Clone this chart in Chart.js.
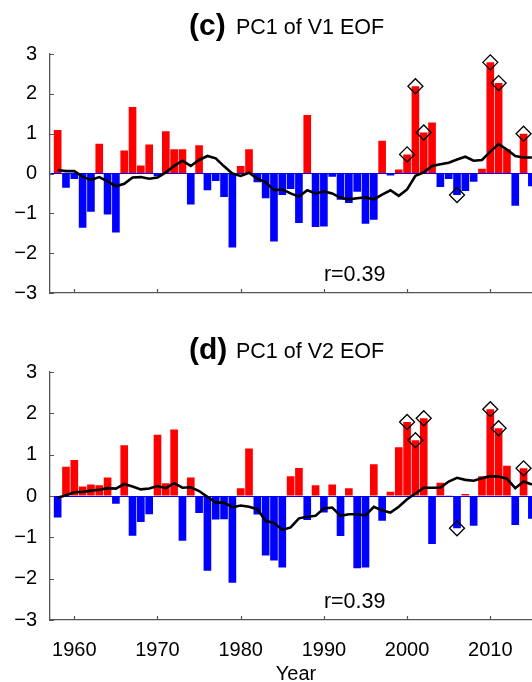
<!DOCTYPE html>
<html>
<head>
<meta charset="utf-8">
<script src="https://cdn.jsdelivr.net/npm/chart.js@4.4.1/dist/chart.umd.min.js"></script>
<style>
  html, body { margin: 0; padding: 0; background: #fff; overflow: hidden; width: 532px; height: 682px; }
  canvas { position: absolute; left: 0; }
  #pcV1 { top: 0; }
  #pcV2 { top: 318px; }
</style>
</head>
<body>
<canvas id="pcV1" width="556" height="318"></canvas>
<canvas id="pcV2" width="556" height="364"></canvas>
<script>
// years on the x axis
const years = [1958, 1959, 1960, 1961, 1962, 1963, 1964, 1965, 1966, 1967,
               1968, 1969, 1970, 1971, 1972, 1973, 1974, 1975, 1976, 1977,
               1978, 1979, 1980, 1981, 1982, 1983, 1984, 1985, 1986, 1987,
               1988, 1989, 1990, 1991, 1992, 1993, 1994, 1995, 1996, 1997,
               1998, 1999, 2000, 2001, 2002, 2003, 2004, 2005, 2006, 2007,
               2008, 2009, 2010, 2011, 2012, 2013, 2014, 2015];

// (c) PC1 of V1 EOF
const v1Pc = [1.09, -0.36, -0.14, -1.36, -0.96, 0.75, -1.03, -1.48, 0.58, 1.67,
              0.20, 0.73, -0.07, 1.06, 0.61, 0.61, -0.78, 0.71, -0.42, -0.19,
              -0.59, -1.86, 0.19, 0.61, -0.22, -0.62, -1.71, -0.54, -0.39, -1.24,
              1.47, -1.34, -1.33, -0.08, -0.66, -0.74, -0.46, -1.26, -1.16, 0.82,
              -0.05, 0.10, 0.48, 2.19, 1.03, 1.28, -0.34, -0.14, -0.54, -0.44,
              -0.21, 0.12, 2.79, 2.27, 0.61, -0.81, 1.00, -0.32];
const v1Mean = [0.09, 0.06, 0.06, -0.08, -0.16, -0.09, -0.20, -0.32, -0.26, -0.10,
                -0.09, -0.13, -0.10, 0.03, 0.19, 0.32, 0.19, 0.34, 0.44, 0.38,
                0.18, 0.00, -0.06, 0.02, -0.13, -0.22, -0.42, -0.40, -0.50, -0.58,
                -0.42, -0.50, -0.45, -0.50, -0.61, -0.65, -0.62, -0.60, -0.65, -0.53,
                -0.42, -0.56, -0.40, -0.06, 0.03, 0.19, 0.23, 0.27, 0.35, 0.42,
                0.32, 0.34, 0.55, 0.74, 0.60, 0.44, 0.40, 0.40];

// (d) PC1 of V2 EOF
const v2Pc = [-0.52, 0.71, 0.87, 0.23, 0.28, 0.26, 0.45, -0.19, 1.23, -0.96,
              -0.63, -0.44, 1.48, 0.31, 1.61, -1.08, 0.45, -0.41, -1.81, -0.57,
              -0.56, -2.10, 0.19, 1.15, -0.45, -1.44, -1.56, -1.73, 0.48, 0.68,
              -0.58, 0.26, -0.40, 0.28, -0.97, 0.19, -1.75, -1.73, 0.77, -0.60,
              0.10, 1.18, 1.79, 1.35, 1.88, -1.16, 0.32, 0.02, -0.78, 0.05,
              -0.72, 0.48, 2.10, 1.64, 0.73, -0.70, 0.67, -0.55];
const v2Mean = [-0.04, 0.02, 0.09, 0.10, 0.13, 0.15, 0.19, 0.18, 0.29, 0.23,
                0.16, 0.18, 0.24, 0.19, 0.31, 0.20, 0.21, 0.12, -0.02, -0.16,
                -0.16, -0.27, -0.23, -0.26, -0.32, -0.60, -0.65, -0.82, -0.76, -0.54,
                -0.50, -0.48, -0.30, -0.28, -0.48, -0.44, -0.44, -0.47, -0.26, -0.35,
                -0.40, -0.26, -0.08, 0.06, 0.20, 0.20, 0.20, 0.35, 0.44, 0.39,
                0.37, 0.43, 0.48, 0.47, 0.42, 0.19, 0.35, 0.28];

// years marked with a diamond
const v1Marked = [2000, 2001, 2002, 2006, 2010, 2011, 2014];
const v2Marked = [2000, 2001, 2002, 2006, 2010, 2011, 2014];

const xTicks = [1960, 1970, 1980, 1990, 2000, 2010];
const yTicks = [-3, -2, -1, 0, 1, 2, 3];

const FONT = '"Liberation Sans", Arial, Helvetica, sans-serif';
const axisColor = '#555';

// inward tick marks + panel texts
const panelText = {
    id: 'panelText',
    afterDraw(chart, args, opts) {
        const ctx = chart.ctx;
        const xs = chart.scales.x, ys = chart.scales.y, a = chart.chartArea;
        ctx.save();
        ctx.strokeStyle = axisColor;
        ctx.lineWidth = 1.2;
        ctx.beginPath();
        yTicks.forEach(v => {
            const py = Math.round(ys.getPixelForValue(v)) + 0.5;
            ctx.moveTo(a.left, py);
            ctx.lineTo(a.left + 4, py);
        });
        xTicks.forEach(v => {
            const px = Math.round(xs.getPixelForValue(v)) + 0.5;
            ctx.moveTo(px, a.bottom);
            ctx.lineTo(px, a.bottom - 4);
        });
        ctx.stroke();

        ctx.fillStyle = '#000';
        ctx.textBaseline = 'alphabetic';
        ctx.textAlign = 'left';
        ctx.font = 'bold 30px ' + FONT;
        ctx.fillText(opts.letter, 189, opts.titleY + 1);
        ctx.font = '21.5px ' + FONT;
        ctx.fillText(opts.title, 236, opts.titleY);
        ctx.fillText('r=0.39', xs.getPixelForValue(1990), ys.getPixelForValue(-2.7));
        if (opts.xTitle) {
            ctx.font = '20px ' + FONT;
            ctx.textAlign = 'center';
            ctx.fillText(opts.xTitle, 296, 362);
        }
        ctx.restore();
    }
};

function makePanel(id, pc, mean, marked, letter, title, titleY, showYear) {
    const barData = years.map((yr, i) => ({ x: yr, y: pc[i] }));
    const lineData = years.map((yr, i) => ({ x: yr, y: mean[i] }));
    const markData = marked.map(yr => ({ x: yr, y: pc[years.indexOf(yr)] }));

    return new Chart(document.getElementById(id), {
        type: 'bar',
        data: {
            datasets: [
                {
                    type: 'line',
                    data: markData,
                    showLine: false,
                    pointStyle: 'rectRot',
                    pointRadius: 7.5,
                    pointBackgroundColor: 'rgba(0,0,0,0)',
                    pointBorderColor: '#000',
                    pointBorderWidth: 1.3,
                    order: 0
                },
                {
                    type: 'line',
                    data: lineData,
                    borderColor: '#000',
                    borderWidth: 2.6,
                    pointRadius: 0,
                    tension: 0,
                    order: 1
                },
                {
                    type: 'bar',
                    data: barData,
                    backgroundColor: c => (c.raw && c.raw.y < 0) ? '#0000ff' : '#ff0000',
                    borderWidth: 0,
                    barPercentage: 0.92,
                    categoryPercentage: 1,
                    order: 2
                }
            ]
        },
        options: {
            responsive: false,
            devicePixelRatio: 1,
            animation: false,
            layout: { padding: { top: 54, right: 8, left: 0, bottom: 0 } },
            plugins: {
                legend: { display: false },
                tooltip: { enabled: false },
                panelText: { letter: letter, title: title, titleY: titleY, xTitle: showYear ? 'Year' : null }
            },
            scales: {
                x: {
                    type: 'linear',
                    min: 1957.08,
                    max: 2016.84,
                    offset: false,
                    afterBuildTicks: s => { s.ticks = xTicks.map(v => ({ value: v })); },
                    afterFit: s => { s.height = showYear ? 62 : 16; },
                    grid: { display: false, drawTicks: false },
                    border: { display: true, color: axisColor, width: 1.3 },
                    ticks: {
                        display: showYear,
                        padding: 18,
                        color: '#000',
                        font: { family: FONT, size: 20 },
                        callback: v => String(v)
                    }
                },
                y: {
                    min: -3,
                    max: 3,
                    afterBuildTicks: s => { s.ticks = yTicks.map(v => ({ value: v })); },
                    afterFit: s => { s.width = 50; },
                    grid: {
                        drawTicks: false,
                        color: c => (c.tick && c.tick.value === 0) ? '#0000ff' : 'rgba(0,0,0,0)',
                        lineWidth: 1
                    },
                    border: { display: true, color: axisColor, width: 1.3 },
                    ticks: {
                        padding: 13,
                        color: '#000',
                        font: { family: FONT, size: 20 },
                        callback: v => v < 0 ? '\u2212' + (-v) : String(v)
                    }
                }
            }
        },
        plugins: [panelText]
    });
}

makePanel('pcV1', v1Pc, v1Mean, v1Marked, '(c)', 'PC1 of V1 EOF', 34, false);
makePanel('pcV2', v2Pc, v2Mean, v2Marked, '(d)', 'PC1 of V2 EOF', 39.5, true);
</script>
</body>
</html>
